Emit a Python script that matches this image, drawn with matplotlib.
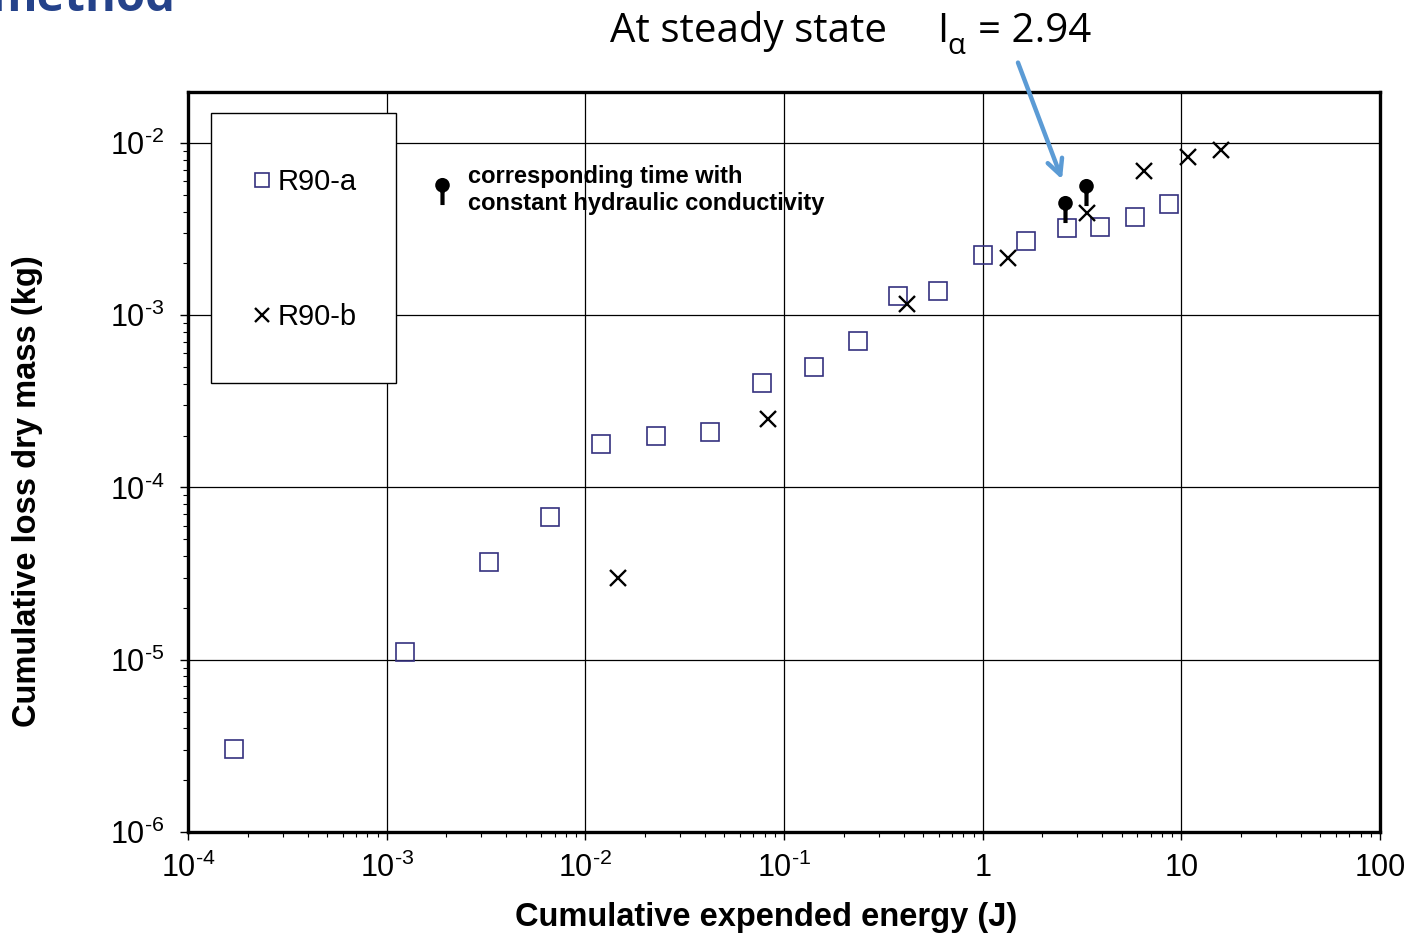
import numpy as np
import matplotlib
matplotlib.use("Agg")
import matplotlib.pyplot as plt
from matplotlib.path import Path
from matplotlib.patches import Rectangle
from matplotlib.ticker import NullFormatter, LogLocator

plt.rcParams['font.family'] = ['Liberation Sans', 'DejaVu Sans']
plt.rcParams['mathtext.fontset'] = 'custom'
plt.rcParams['mathtext.rm'] = 'Liberation Sans'
plt.rcParams['mathtext.it'] = 'Liberation Sans:italic'
plt.rcParams['mathtext.bf'] = 'Liberation Sans:bold'

# ----------------------------
# DATA
# ----------------------------
energy_a = [1.70e-4, 1.24e-3, 3.27e-3, 6.64e-3, 0.0120, 0.0226, 0.0424, 0.0775,
            0.141, 0.235, 0.374, 0.596, 1.00, 1.65, 2.65, 3.89, 5.84, 8.65]
mass_a = [3.05e-6, 1.11e-5, 3.70e-5, 6.75e-5, 1.79e-4, 2.00e-4, 2.10e-4, 4.05e-4,
          5.00e-4, 7.10e-4, 1.29e-3, 1.38e-3, 2.24e-3, 2.70e-3, 3.21e-3, 3.25e-3,
          3.72e-3, 4.43e-3]

energy_b = [0.0146, 0.083, 0.416, 1.34, 3.34, 6.47, 10.8, 15.8]
mass_b = [2.99e-5, 2.50e-4, 1.16e-3, 2.15e-3, 3.93e-3, 6.88e-3, 8.30e-3, 9.10e-3]

# points where hydraulic conductivity became constant
energy_pin = [2.59, 3.30]
mass_pin = [4.14e-3, 5.20e-3]

x_ticks = [1e-4, 1e-3, 1e-2, 1e-1, 1, 10, 100]
x_labels = [r"10$^{\text{-4}}$", r"10$^{\text{-3}}$", r"10$^{\text{-2}}$",
            r"10$^{\text{-1}}$", "1", "10", "100"]
y_ticks = [1e-6, 1e-5, 1e-4, 1e-3, 1e-2]
y_labels = [r"10$^{\text{-6}}$", r"10$^{\text{-5}}$", r"10$^{\text{-4}}$",
            r"10$^{\text{-3}}$", r"10$^{\text{-2}}$"]

navy = "#35317f"

# pin-shaped marker: round head on a short stick
head = Path.circle((0, 6), 7)
stick = Path([(-2, -13), (2, -13), (2, 1), (-2, 1), (-2, -13)],
             [Path.MOVETO, Path.LINETO, Path.LINETO, Path.LINETO, Path.CLOSEPOLY])
pin_marker = Path.make_compound_path(head, stick)

W, H = 1413, 936
fig = plt.figure(figsize=(W / 100, H / 100), dpi=100)
ax = fig.add_axes([188 / W, 1 - 832 / H, (1380 - 188) / W, (832 - 92) / H])
ax.set_xscale('log')
ax.set_yscale('log')
ax.set_xlim(1e-4, 100)
ax.set_ylim(1e-6, 10 ** -1.704)

sq, = ax.plot(energy_a, mass_a, ls='none', marker='s', ms=13, mfc='none',
              mec=navy, mew=1.2, label='R90-a', zorder=4)
cr, = ax.plot(energy_b, mass_b, ls='none', marker='x', ms=11.5, mec='black',
              mew=1.7, label='R90-b', zorder=5)
pn, = ax.plot(energy_pin, mass_pin, ls='none', marker=pin_marker, ms=19.5,
              color='black', mew=0, zorder=6,
              label='corresponding time with\nconstant hydraulic conductivity')

# grid and axes styling
ax.grid(True, which='major', color='black', lw=0.9)
ax.set_axisbelow(True)
for s in ax.spines.values():
    s.set_linewidth(2.4)

ax.set_xticks(x_ticks, x_labels)
ax.set_yticks(y_ticks, y_labels)
ax.xaxis.set_minor_locator(LogLocator(base=10, subs=np.arange(2, 10), numticks=20))
ax.yaxis.set_minor_locator(LogLocator(base=10, subs=np.arange(2, 10), numticks=20))
ax.xaxis.set_minor_formatter(NullFormatter())
ax.yaxis.set_minor_formatter(NullFormatter())
ax.tick_params(which='major', direction='out', length=6, width=1, labelsize=22)
ax.tick_params(which='minor', direction='out', length=3.5, width=0.8)
ax.tick_params(axis='x', which='major', pad=9)
ax.tick_params(axis='y', which='major', pad=11)

ax.set_xlabel('Cumulative expended energy (J)', fontsize=23.5, fontweight='bold')
ax.xaxis.set_label_coords(0.485, -0.094)
ax.set_ylabel('Cumulative loss dry mass (kg)', fontsize=23.5, fontweight='bold')
ax.yaxis.set_label_coords(-0.1215, 0.46)

# legend box
ax.add_patch(Rectangle((0.0193, 0.6068), 0.1552, 0.3649, transform=ax.transAxes,
                       facecolor='white', edgecolor='black', lw=1.0, zorder=3))
leg1 = ax.legend(handles=[sq, cr], loc='upper left', bbox_to_anchor=(0.045, 0.9125),
                 frameon=False, handlelength=0.6, handletextpad=0.25,
                 labelspacing=3.67, markerscale=0.82, borderpad=0.4,
                 borderaxespad=0, fontsize=21)
leg1.set_zorder(7)
ax.add_artist(leg1)

leg2 = ax.legend(handles=[pn], loc='upper left', bbox_to_anchor=(0.195, 0.914),
                 frameon=False, handlelength=1.0, handletextpad=0.62,
                 markerscale=1.0, borderpad=0.4, borderaxespad=0,
                 prop={'size': 17, 'weight': 'bold'})
leg2.set_zorder(7)

# header texts
hdr = dict(family=['Open Sans', 'DejaVu Sans'], color='black')
fig.text(610 / W, 1 - 42 / H, 'At steady state', fontsize=29, va='baseline', **hdr)
fig.text(937 / W, 1 - 42 / H, 'I', fontsize=29, va='baseline', **hdr)
fig.text(947 / W, 1 - 54 / H, 'α', fontsize=21, va='baseline', **hdr)
fig.text(978 / W, 1 - 42 / H, '= 2.94', fontsize=29, va='baseline', **hdr)
fig.text(-10 / W, 1 - 11 / H, 'method', fontsize=34, fontweight='bold', va='baseline',
         color='#24428a', family=['Open Sans', 'DejaVu Sans'])

# arrow pointing at the steady-state point
ax.annotate('', xy=(1063, H - 182), xycoords='figure pixels',
            xytext=(1017, H - 60), textcoords='figure pixels',
            arrowprops=dict(arrowstyle='->,head_length=1.1,head_width=0.55',
                            color='#5b9bd5', lw=3.2))

fig.savefig('out.png', dpi=100)
